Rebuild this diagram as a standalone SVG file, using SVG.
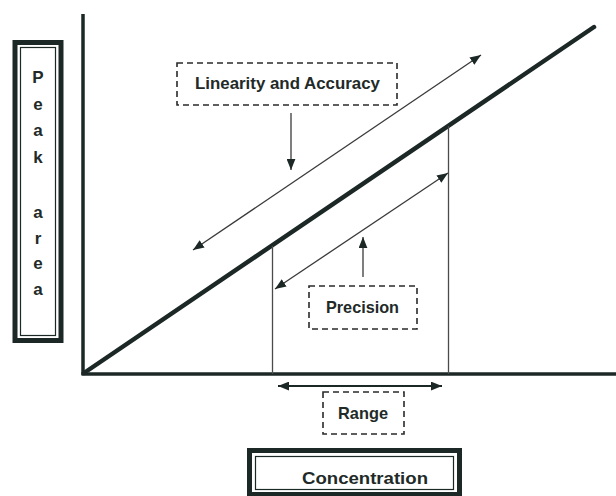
<svg xmlns="http://www.w3.org/2000/svg" width="616" height="496" viewBox="0 0 616 496">
<defs>
<marker id="ah" viewBox="0 0 10 8" refX="10" refY="4" markerWidth="11" markerHeight="9" markerUnits="userSpaceOnUse" orient="auto-start-reverse">
<path d="M0,0 L10,4 L0,8 Z" fill="#1c2826"/>
</marker>
<style>
.lbl{font-family:"Liberation Sans",Arial,sans-serif;font-weight:bold;fill:#222a28;text-anchor:middle}
.dash{fill:none;stroke:#2a2a2a;stroke-width:1.6;stroke-dasharray:6,4}
.thin{stroke:#4a4a4a;stroke-width:1.3;fill:none}
.arr{stroke:#3a3a3a;stroke-width:1.3;fill:none}
.axis{stroke:#1c2826;stroke-width:3.5;fill:none}
</style>
</defs>
<rect width="616" height="496" fill="#fff"/>
<g id="axes">
<line class="axis" x1="83" y1="14" x2="83" y2="375"/>
<line class="axis" x1="81.5" y1="374" x2="616" y2="374"/>
<line x1="84" y1="373" x2="594" y2="27" stroke="#1c2826" stroke-width="4.5" stroke-linecap="round"/>
<line class="thin" x1="272.5" y1="246" x2="272.5" y2="374"/>
<line class="thin" x1="448.5" y1="126" x2="448.5" y2="374"/>
</g>
<g id="connectors">
<line class="arr" x1="193" y1="250" x2="481" y2="55" marker-start="url(#ah)" marker-end="url(#ah)"/>
<line class="arr" x1="275" y1="289" x2="448" y2="173" marker-start="url(#ah)" marker-end="url(#ah)"/>
<line class="arr" x1="291" y1="113" x2="291" y2="170" marker-end="url(#ah)"/>
<line class="arr" x1="363" y1="277" x2="363" y2="237" marker-end="url(#ah)"/>
<line x1="278" y1="386" x2="442" y2="386" stroke="#1c2826" stroke-width="1.8" marker-start="url(#ah)" marker-end="url(#ah)"/>
</g>
<g id="peak-area">
<rect x="15" y="42.5" width="46" height="298" fill="#fff" stroke="#1c2826" stroke-width="5"/>
<rect x="20.5" y="47.5" width="35" height="288" fill="none" stroke="#1c2826" stroke-width="1.2"/>
<g class="lbl" font-size="17">
<text x="38" y="83">P</text>
<text x="38" y="110">e</text>
<text x="38" y="136">a</text>
<text x="38" y="163">k</text>
<text x="38" y="218">a</text>
<text x="38" y="244">r</text>
<text x="38" y="269">e</text>
<text x="38" y="295">a</text>
</g>
</g>
<g id="concentration">
<rect x="249.5" y="450.5" width="210" height="44" fill="#fff" stroke="#1c2826" stroke-width="5"/>
<rect x="255.5" y="456.5" width="198" height="33" fill="none" stroke="#1c2826" stroke-width="1.2"/>
<text class="lbl" x="365" y="484" font-size="17" textLength="126" lengthAdjust="spacingAndGlyphs">Concentration</text>
</g>
<g id="linearity">
<rect class="dash" x="177" y="63" width="220" height="42"/>
<text class="lbl" x="287.5" y="89" font-size="17" textLength="185" lengthAdjust="spacingAndGlyphs">Linearity and Accuracy</text>
</g>
<g id="precision">
<rect class="dash" x="309" y="286" width="108" height="43"/>
<text class="lbl" x="362.5" y="313" font-size="17" textLength="73" lengthAdjust="spacingAndGlyphs">Precision</text>
</g>
<g id="range">
<rect class="dash" x="323" y="392" width="81" height="42"/>
<text class="lbl" x="363" y="419" font-size="17" textLength="50" lengthAdjust="spacingAndGlyphs">Range</text>
</g>
</svg>
